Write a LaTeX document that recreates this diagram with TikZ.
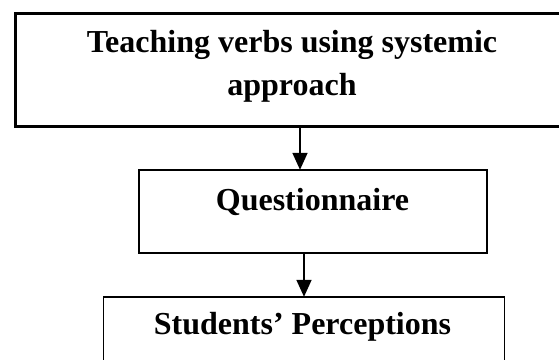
\documentclass[tikz,border=0pt]{standalone}
\usepackage{fontspec}
\setmainfont{Liberation Serif}
\usetikzlibrary{arrows.meta}
\tikzset{
  boxtxt/.style={font=\bfseries\fontsize{32}{43}\selectfont, inner sep=0pt, anchor=base},
  thinbox/.style={draw, line width=1.6pt, inner sep=0pt},
  thickbox/.style={draw, line width=3pt, inner sep=0pt},
  flow/.style={line width=1.8pt, -{Triangle[width=15pt,length=17pt]}, shorten >=-0.8pt}
}
\begin{document}
\begin{tikzpicture}[x=1pt,y=1pt]
\useasboundingbox (0,0) rectangle (559,-359);
\clip (0,0) rectangle (559,-359);
% boxes
\node[thickbox, minimum width=560pt, minimum height=113pt, anchor=north west] (top) at (13.5,-11.5) {};
\node[thinbox, minimum width=348pt, minimum height=83pt, anchor=north west] (mid) at (138,-169) {};
\node[thinbox, minimum width=401pt, minimum height=120pt, anchor=north west] (bot) at (102.5,-296) {};
% texts
\node[boxtxt] (t1) at (292,-52) {Teaching verbs using systemic};
\node[boxtxt] (t2) at (292,-95) {approach};
\node[boxtxt] (t3) at (312.5,-210) {Questionnaire};
\node[boxtxt] (t4) at (302.5,-334) {Students’ Perceptions};
% arrow positions
\coordinate (a1) at (300,0);
\coordinate (a2) at (304,0);
\draw[flow] (top.south -| a1) -- (mid.north -| a1);
\draw[flow] (mid.south -| a2) -- (bot.north -| a2);
\end{tikzpicture}
\end{document}
